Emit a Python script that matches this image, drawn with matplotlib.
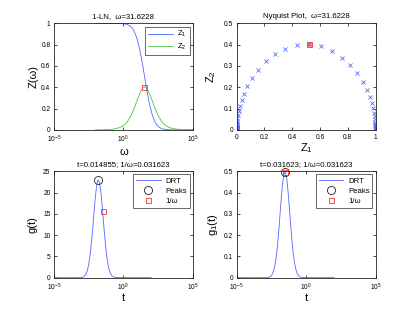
import numpy as np
import matplotlib
matplotlib.use("Agg")
import matplotlib.pyplot as plt
from matplotlib.ticker import NullLocator, FuncFormatter

plt.rcParams['font.family'] = ['Liberation Sans', 'DejaVu Sans']
plt.rcParams['mathtext.fontset'] = 'custom'
plt.rcParams['mathtext.rm'] = 'Liberation Sans'
plt.rcParams['mathtext.it'] = 'Liberation Sans:italic'

# frequency grid (log10 of omega), 65 points from 1e-2 to 1e5
log_w = [-2.0, -1.8906, -1.7813, -1.6719, -1.5625, -1.4531, -1.3438, -1.2344,
         -1.125, -1.0156, -0.9063, -0.7969, -0.6875, -0.5781, -0.4688, -0.3594,
         -0.25, -0.1406, -0.0313, 0.0781, 0.1875, 0.2969, 0.4063, 0.5156,
         0.625, 0.7344, 0.8438, 0.9531, 1.0625, 1.1719, 1.2813, 1.3906,
         1.5, 1.6094, 1.7188, 1.8281, 1.9375, 2.0469, 2.1563, 2.2656,
         2.375, 2.4844, 2.5938, 2.7031, 2.8125, 2.9219, 3.0313, 3.1406,
         3.25, 3.3594, 3.4688, 3.5781, 3.6875, 3.7969, 3.9063, 4.0156,
         4.125, 4.2344, 4.3438, 4.4531, 4.5625, 4.6719, 4.7813, 4.8906, 5.0]

z1 = [1.0, 1.0, 1.0, 1.0, 1.0, 1.0, 1.0, 1.0,
      1.0, 1.0, 1.0, 0.9999, 0.9999, 0.9998, 0.9996, 0.9994,
      0.9990, 0.9984, 0.9973, 0.9955, 0.9926, 0.9880, 0.9810, 0.9709,
      0.9575, 0.9360, 0.9060, 0.8661, 0.8159, 0.7553, 0.6849, 0.6055,
      0.520, 0.4327, 0.3498, 0.2748, 0.2099, 0.1553, 0.1111, 0.0770,
      0.0521, 0.0348, 0.0233, 0.0148, 0.0092, 0.0056, 0.0034, 0.0021,
      0.0012, 0.0008, 0.0005, 0.0003, 0.0001, 0.0001, 0.0, 0.0,
      0.0, 0.0, 0.0, 0.0, 0.0, 0.0, 0.0, 0.0, 0.0]

z2 = [0.0004, 0.0005, 0.0007, 0.0009, 0.0011, 0.0014, 0.0019, 0.0024,
      0.0031, 0.0039, 0.0051, 0.0065, 0.0084, 0.0108, 0.0139, 0.0179,
      0.0230, 0.0296, 0.0381, 0.0490, 0.0628, 0.0803, 0.102, 0.127,
      0.156, 0.1881, 0.2260, 0.2654, 0.3041, 0.3398, 0.3701, 0.3923,
      0.4035, 0.3996, 0.3821, 0.3551, 0.3211, 0.2834, 0.2440, 0.2053,
      0.1705, 0.140, 0.113, 0.0896, 0.0700, 0.0547, 0.0427, 0.0332,
      0.0258, 0.0201, 0.0156, 0.0121, 0.0094, 0.0073, 0.0057, 0.0044,
      0.0034, 0.0027, 0.0021, 0.0016, 0.0013, 0.0010, 0.0008, 0.0006, 0.0005]

# DRT on t = 1/omega (ascending t)
g = [0.0] * 17 + [0.014, 0.043, 0.125, 0.33, 0.79, 1.71, 3.34, 5.90,
                  9.45, 13.69, 17.97, 21.36, 22.98, 22.39, 19.74, 15.77,
                  11.40, 7.46, 4.43, 2.38, 1.15, 0.51, 0.20, 0.073,
                  0.024, 0.007, 0.002, 0.0005] + [0.0] * 20
g1 = [0.0] * 17 + [0.00001, 0.00004, 0.00015, 0.0005, 0.0016, 0.0044, 0.0109, 0.0249,
                   0.0513, 0.0956, 0.1613, 0.2467, 0.3414, 0.4278, 0.4854, 0.4987,
                   0.4639, 0.3906, 0.2979, 0.2057, 0.1285, 0.0727, 0.0373, 0.0173,
                   0.0073, 0.0028, 0.0010, 0.0003] + [0.0] * 20

i_w = 32      # omega = 31.6228
i_peak = 29   # t = 0.014855
i_peak1 = 32  # t = 0.031623

omega = 10 ** np.array(log_w)
t = 1.0 / omega[::-1]

blue = '#5468ff'
green = '#4cc44c'
red = '#ff3030'
tick_fs = 4.8
lab_fs = 8
title_fs = 5.6
leg_fs = 5.6

fig = plt.figure(figsize=(4.15, 3.12), dpi=100)
pos = {'tl': [0.13, 0.5838, 0.3347, 0.3412], 'tr': [0.5703, 0.5838, 0.3347, 0.3412],
       'bl': [0.13, 0.11, 0.3347, 0.3412], 'br': [0.5703, 0.11, 0.3347, 0.3412]}


def num_fmt(v, _):
    return '%g' % round(v, 4)


def style(ax, logx=False):
    for s in ax.spines.values():
        s.set_linewidth(0.6)
        s.set_color('#222222')
    ax.tick_params(direction='in', top=True, right=True, length=2.5, width=0.5,
                   labelsize=tick_fs)
    ax.tick_params(axis='x', pad=3)
    ax.tick_params(axis='y', pad=2.5)
    if logx:
        ax.set_xscale('log')
        ax.set_xlim(1e-5, 1e5)
        ax.set_xticks([1e-5, 1e0, 1e5])
        ax.xaxis.set_minor_locator(NullLocator())
    else:
        ax.xaxis.set_major_formatter(FuncFormatter(num_fmt))
    ax.yaxis.set_major_formatter(FuncFormatter(num_fmt))


def legend(ax, loc='upper right'):
    leg = ax.legend(loc=loc, fontsize=leg_fs, fancybox=False, edgecolor='#222222',
                    handlelength=3.2, borderaxespad=0.4, labelspacing=0.35,
                    borderpad=0.35, handletextpad=0.6)
    leg.get_frame().set_linewidth(0.6)
    return leg


# top left: Z(omega)
ax = fig.add_axes(pos['tl'])
ax.plot(omega, z1, color=blue, lw=0.6, label='Z$_1$')
ax.plot(omega, z2, color=green, lw=0.6, label='Z$_2$')
ax.plot(omega[i_w], z2[i_w], 's', ms=3.6, mfc='none', mec=red, mew=0.6)
style(ax, logx=True)
ax.set_ylim(0, 1)
ax.set_yticks([0, 0.2, 0.4, 0.6, 0.8, 1])
ax.set_xlabel('ω', fontsize=lab_fs, labelpad=1)
ax.set_ylabel('Z(ω)', fontsize=lab_fs, labelpad=2)
ax.set_title('1-LN,  ω=31.6228', fontsize=title_fs, pad=4)
legend(ax)

# top right: Nyquist
ax = fig.add_axes(pos['tr'])
ax.plot(z1, z2, 'x', color=blue, ms=2.6, mew=0.6)
ax.plot(z1[i_w], z2[i_w], 's', ms=3.6, mfc='#ff9090', mec=red, mew=0.6)
ax.plot(z1[i_w], z2[i_w], 'x', color=blue, ms=2.6, mew=0.6)
style(ax)
ax.set_xlim(0, 1)
ax.set_ylim(0, 0.5)
ax.set_xticks([0, 0.2, 0.4, 0.6, 0.8, 1])
ax.set_yticks([0, 0.1, 0.2, 0.3, 0.4, 0.5])
ax.set_xlabel('Z$_1$', fontsize=lab_fs, labelpad=0)
ax.set_ylabel('Z$_2$', fontsize=lab_fs, labelpad=4)
ax.set_title('Nyquist Plot,  ω=31.6228', fontsize=title_fs, pad=4)

# bottom left: g(t)
ax = fig.add_axes(pos['bl'])
ax.plot(t, g, color=blue, lw=0.6, label='DRT')
ax.plot(t[i_peak], g[i_peak], 'o', ms=5.8, mfc='none', mec='#222222', mew=0.6, label='Peaks')
ax.plot(t[i_w], g[i_w], 's', ms=3.6, mfc='none', mec=red, mew=0.6, label='1/ω')
style(ax, logx=True)
ax.set_ylim(0, 25)
ax.set_yticks([0, 5, 10, 15, 20, 25])
ax.set_xlabel('t', fontsize=lab_fs, labelpad=0)
ax.set_ylabel('g(t)', fontsize=lab_fs, labelpad=4)
ax.set_title('t=0.014855; 1/ω=0.031623', fontsize=title_fs, pad=4)
legend(ax)

# bottom right: g1(t)
ax = fig.add_axes(pos['br'])
ax.plot(t, g1, color=blue, lw=0.6, label='DRT')
ax.plot(t[i_peak1], g1[i_peak1], 'o', ms=5.8, mfc='none', mec='#222222', mew=0.6,
        label='Peaks', clip_on=False)
ax.plot(t[i_w], g1[i_w], 's', ms=3.6, mfc='none', mec=red, mew=0.6, label='1/ω',
        clip_on=False)
style(ax, logx=True)
ax.set_ylim(0, 0.5)
ax.set_yticks([0, 0.1, 0.2, 0.3, 0.4, 0.5])
ax.set_xlabel('t', fontsize=lab_fs, labelpad=0)
ax.set_ylabel('g$_1$(t)', fontsize=lab_fs, labelpad=3)
ax.set_title('t=0.031623; 1/ω=0.031623', fontsize=title_fs, pad=4)
legend(ax)

fig.savefig('out.png', dpi=100)
